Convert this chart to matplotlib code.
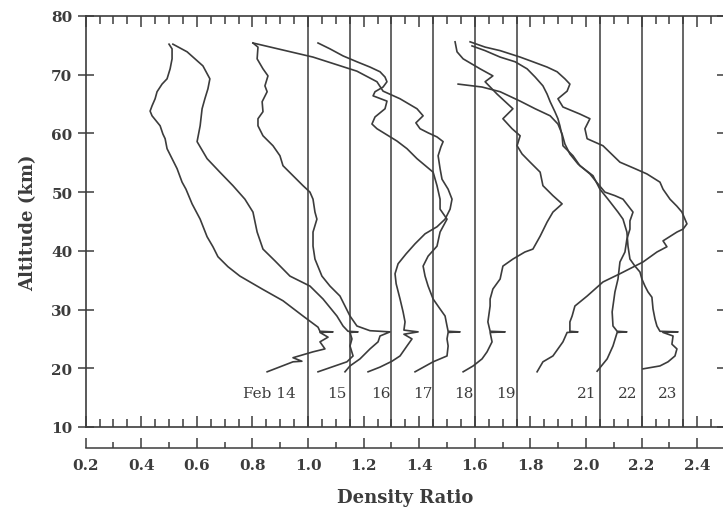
import numpy as np
import matplotlib
matplotlib.use("Agg")
import matplotlib.pyplot as plt
from matplotlib.ticker import MultipleLocator, FixedLocator

plt.rcParams['font.family'] = ['DejaVu Serif']

INK = '#3c3c3c'

# ratio = 1 reference line of each profile (profiles shifted 0.15 per day)
ref_lines = [1.0, 1.15, 1.3, 1.45, 1.6, 1.75, 2.05, 2.2, 2.35]
day_labels = ['Feb 14', '15', '16', '17', '18', '19', '21', '22', '23']
label_x = [0.86, 1.104, 1.263, 1.414, 1.561, 1.712, 2.004, 2.151, 2.295]
label_alt = 15.8
scale_ticks = [0.2, 0.4, 0.6, 0.8, 1.0, 1.2, 1.4, 1.6, 1.8, 2.0, 2.2, 2.4]

# profiles (altitude km, shifted density ratio)
feb14_alt = [19.4, 21.1, 21.2, 21.8, 22.8, 23.3, 24.5, 25.3, 26.1, 26.2, 26.3, 27.0, 28.9, 31.5,
             33.5, 35.7, 37.3, 39.0, 40.7, 42.4, 45.4, 48.0, 48.8, 50.5, 51.7, 54.0, 55.7, 57.4,
             59.1, 59.9, 61.3, 63.0, 63.8, 64.7, 65.9, 67.1, 68.4, 69.3, 71.0, 72.7, 74.4, 75.2]
feb14_x = [0.853, 0.946, 0.978, 0.946, 1.018, 1.061, 1.043, 1.072, 1.043, 1.090, 1.043, 1.036,
           0.982, 0.910, 0.835, 0.755, 0.712, 0.676, 0.658, 0.637, 0.612, 0.583, 0.576, 0.561,
           0.547, 0.529, 0.511, 0.493, 0.486, 0.478, 0.468, 0.439, 0.432, 0.439, 0.450, 0.457,
           0.475, 0.493, 0.504, 0.511, 0.511, 0.500]

feb15_alt = [19.4, 20.4, 21.1, 22.1, 23.8, 25.0, 26.1, 26.2, 26.3, 27.2, 28.9, 31.8, 34.0, 35.7,
             38.3, 40.3, 43.2, 46.6, 48.8, 51.1, 53.4, 55.7, 58.6, 61.3, 64.2, 65.9, 67.6, 69.3,
             71.5, 73.9, 75.2]
feb15_x = [1.036, 1.097, 1.140, 1.162, 1.151, 1.158, 1.151, 1.180, 1.144, 1.126, 1.104, 1.054,
           1.007, 0.935, 0.881, 0.838, 0.817, 0.802, 0.773, 0.730, 0.683, 0.637, 0.601, 0.612,
           0.619, 0.629, 0.640, 0.647, 0.622, 0.565, 0.514]

feb16_alt = [19.4, 20.4, 21.6, 23.3, 24.5, 25.5, 26.2, 26.4, 27.2, 28.9, 30.6, 32.3, 34.0, 35.7,
             38.6, 40.8, 43.2, 45.4, 46.6, 48.8, 50.0, 51.1, 52.8, 54.5, 56.2, 57.9, 59.6, 61.3,
             62.5, 63.7, 65.4, 67.1, 68.1, 69.8, 71.0, 72.7, 74.7, 75.4]
feb16_x = [1.133, 1.151, 1.187, 1.223, 1.252, 1.259, 1.295, 1.223, 1.176, 1.151, 1.133, 1.115,
           1.079, 1.050, 1.025, 1.018, 1.018, 1.032, 1.025, 1.018, 1.007, 0.982, 0.946, 0.910,
           0.899, 0.874, 0.838, 0.820, 0.820, 0.838, 0.835, 0.853, 0.845, 0.856, 0.838, 0.817,
           0.820, 0.802]

feb17_alt = [19.4, 20.2, 21.2, 22.1, 23.8, 25.0, 25.8, 26.2, 26.5, 27.9, 29.6, 31.8, 34.4, 36.1,
             37.8, 39.5, 41.2, 42.9, 44.1, 45.4, 47.1, 48.8, 50.5, 52.2, 54.0, 56.2, 57.7, 58.6,
             59.4, 60.1, 60.8, 61.8, 63.0, 64.2, 65.9, 67.2, 68.8, 70.6, 73.0, 75.4]
feb17_x = [1.216, 1.259, 1.302, 1.331, 1.356, 1.374, 1.345, 1.396, 1.345, 1.349, 1.342, 1.331,
           1.317, 1.313, 1.324, 1.353, 1.385, 1.421, 1.464, 1.493, 1.511, 1.518, 1.504, 1.482,
           1.475, 1.468, 1.478, 1.486, 1.464, 1.432, 1.403, 1.388, 1.414, 1.392, 1.331, 1.270,
           1.248, 1.176, 1.018, 0.802]

feb18_alt = [19.4, 21.1, 22.1, 23.8, 25.0, 26.1, 26.2, 26.3, 27.2, 28.9, 30.1, 31.8, 34.0, 35.7,
             37.4, 39.1, 40.8, 43.2, 45.4, 47.1, 48.8, 51.1, 53.4, 55.7, 57.4, 58.7, 60.8, 61.6,
             62.8, 64.2, 65.5, 66.4, 67.1, 67.9, 68.8, 69.6, 70.5, 71.3, 72.2, 73.2, 74.4, 75.4]
feb18_x = [1.385, 1.450, 1.500, 1.504, 1.500, 1.504, 1.547, 1.504, 1.500, 1.493, 1.475, 1.450,
           1.432, 1.421, 1.414, 1.432, 1.464, 1.475, 1.500, 1.475, 1.475, 1.464, 1.450, 1.392,
           1.356, 1.320, 1.248, 1.230, 1.241, 1.277, 1.284, 1.234, 1.241, 1.270, 1.284, 1.277,
           1.259, 1.223, 1.176, 1.126, 1.079, 1.036]

feb19_alt = [19.4, 20.4, 21.6, 22.8, 24.5, 26.1, 26.2, 26.3, 27.9, 30.6, 31.8, 33.5, 35.2, 37.4,
             38.6, 39.8, 40.3, 42.5, 44.9, 46.6, 48.0, 49.4, 51.1, 53.4, 55.1, 56.5, 57.9, 59.6,
             60.8, 62.5, 64.2, 66.7, 68.8, 69.8, 71.0, 72.7, 73.9, 75.6]
feb19_x = [1.558, 1.594, 1.626, 1.644, 1.662, 1.655, 1.709, 1.655, 1.647, 1.655, 1.655, 1.665,
           1.691, 1.701, 1.737, 1.780, 1.809, 1.835, 1.860, 1.881, 1.914, 1.881, 1.845, 1.835,
           1.799, 1.770, 1.752, 1.763, 1.734, 1.701, 1.737, 1.680, 1.637, 1.665, 1.619, 1.558,
           1.536, 1.529]

feb21_alt = [19.4, 21.1, 22.1, 24.5, 26.1, 26.2, 26.3, 27.9, 28.9, 30.6, 32.3, 34.7, 36.1, 38.1,
             39.8, 40.7, 41.7, 43.2, 43.7, 44.6, 46.6, 47.6, 48.8, 50.5, 51.7, 53.1, 54.0, 55.1,
             57.9, 59.1, 60.8, 62.5, 63.3, 64.5, 65.9, 67.2, 68.4, 69.3, 70.5, 71.3, 72.2, 73.0,
             74.1, 74.7, 75.6]
feb21_x = [1.824, 1.845, 1.881, 1.917, 1.932, 1.971, 1.942, 1.942, 1.950, 1.960, 2.004, 2.061,
           2.122, 2.205, 2.255, 2.291, 2.277, 2.327, 2.349, 2.363, 2.345, 2.327, 2.302, 2.277,
           2.266, 2.219, 2.176, 2.122, 2.061, 2.004, 1.996, 2.014, 1.978, 1.917, 1.899, 1.932,
           1.942, 1.924, 1.896, 1.860, 1.809, 1.763, 1.691, 1.637, 1.583]

feb22_alt = [19.5, 21.6, 23.8, 26.1, 26.2, 26.3, 27.2, 29.6, 33.0, 35.2, 38.1, 39.8, 42.0, 43.7,
             45.1, 46.6, 48.8, 49.4, 50.0, 51.4, 53.1, 54.8, 56.5, 58.2, 59.9, 61.6, 63.0, 64.2,
             65.5, 67.1, 67.9, 68.4]
feb22_x = [2.040, 2.076, 2.097, 2.112, 2.147, 2.112, 2.097, 2.094, 2.104, 2.115, 2.122, 2.140,
           2.147, 2.158, 2.158, 2.169, 2.133, 2.104, 2.068, 2.043, 2.014, 1.971, 1.942, 1.924,
           1.914, 1.899, 1.871, 1.817, 1.763, 1.691, 1.626, 1.540]

feb23_alt = [19.9, 20.4, 21.1, 22.1, 23.3, 24.1, 25.5, 26.1, 26.2, 26.3, 27.2, 28.4, 30.1, 32.1,
             33.0, 34.0, 35.2, 36.4, 37.4, 38.6, 40.8, 43.2, 45.4, 46.6, 48.8, 50.5, 52.8, 54.5,
             56.2, 57.9, 59.6, 61.3, 62.5, 63.7, 65.4, 66.7, 68.1, 69.6, 71.0, 72.2, 73.0, 74.1,
             74.9]
feb23_x = [2.205, 2.266, 2.295, 2.320, 2.327, 2.309, 2.313, 2.277, 2.331, 2.266, 2.255, 2.248,
           2.241, 2.237, 2.223, 2.212, 2.201, 2.194, 2.176, 2.158, 2.151, 2.147, 2.133, 2.115,
           2.079, 2.050, 2.025, 1.978, 1.953, 1.917, 1.914, 1.906, 1.899, 1.888, 1.871, 1.860,
           1.845, 1.817, 1.788, 1.745, 1.691, 1.637, 1.590]

profiles = [
    (feb14_x, feb14_alt), (feb15_x, feb15_alt), (feb16_x, feb16_alt),
    (feb17_x, feb17_alt), (feb18_x, feb18_alt), (feb19_x, feb19_alt),
    (feb21_x, feb21_alt), (feb22_x, feb22_alt), (feb23_x, feb23_alt),
]

fig = plt.figure(figsize=(7.23, 5.10), dpi=100)
ax = fig.add_axes([0.1184, 0.1608, 0.8844, 0.8059])

for xr in ref_lines:
    ax.axvline(xr, color=INK, lw=1.1)

for xs, alts in profiles:
    ax.plot(xs, alts, color=INK, lw=1.2)

for lab, lx in zip(day_labels, label_x):
    ax.text(lx, label_alt, lab, ha='center', va='center', fontsize=11, color=INK)

ax.set_xlim(0.2, 2.5)
ax.set_ylim(10, 80)
for sp in ax.spines.values():
    sp.set_color(INK)
    sp.set_linewidth(1.2)

# frame: inward ticks top and bottom, no labels
ax.xaxis.set_major_locator(MultipleLocator(0.2))
ax.xaxis.set_minor_locator(MultipleLocator(0.05))
ax.tick_params(axis='x', which='both', direction='in', top=True, bottom=True,
               labelbottom=False, color=INK, width=1.1)
ax.tick_params(axis='x', which='major', length=8)
ax.tick_params(axis='x', which='minor', length=6)

ax.set_yticks(np.arange(10, 81, 10))
ax.tick_params(axis='y', direction='inout', length=11, width=1.1, left=True, right=True,
               color=INK, labelcolor=INK, labelsize=11, pad=4)
for lbl in ax.get_yticklabels():
    lbl.set_fontweight('bold')
ax.set_ylabel('Altitude (km)', fontsize=13, fontweight='bold', color=INK, labelpad=10)

# separate scale below the frame
sec = ax.secondary_xaxis(-0.051)
sec.xaxis.set_major_locator(FixedLocator(scale_ticks))
sec.xaxis.set_minor_locator(MultipleLocator(0.1))
sec.set_xticks(scale_ticks, [f'{t:.1f}' for t in scale_ticks])
sec.tick_params(which='major', direction='in', length=7, width=1.1, color=INK,
                labelcolor=INK, labelsize=11, pad=7)
sec.tick_params(which='minor', direction='in', length=4, width=1.1, color=INK)
sec.spines['bottom'].set_color(INK)
sec.spines['bottom'].set_linewidth(1.1)
for lbl in sec.get_xticklabels():
    lbl.set_fontweight('bold')
sec.set_xlabel('Density Ratio', fontsize=13, fontweight='bold', color=INK, labelpad=12)

fig.savefig('out.png', dpi=100)
